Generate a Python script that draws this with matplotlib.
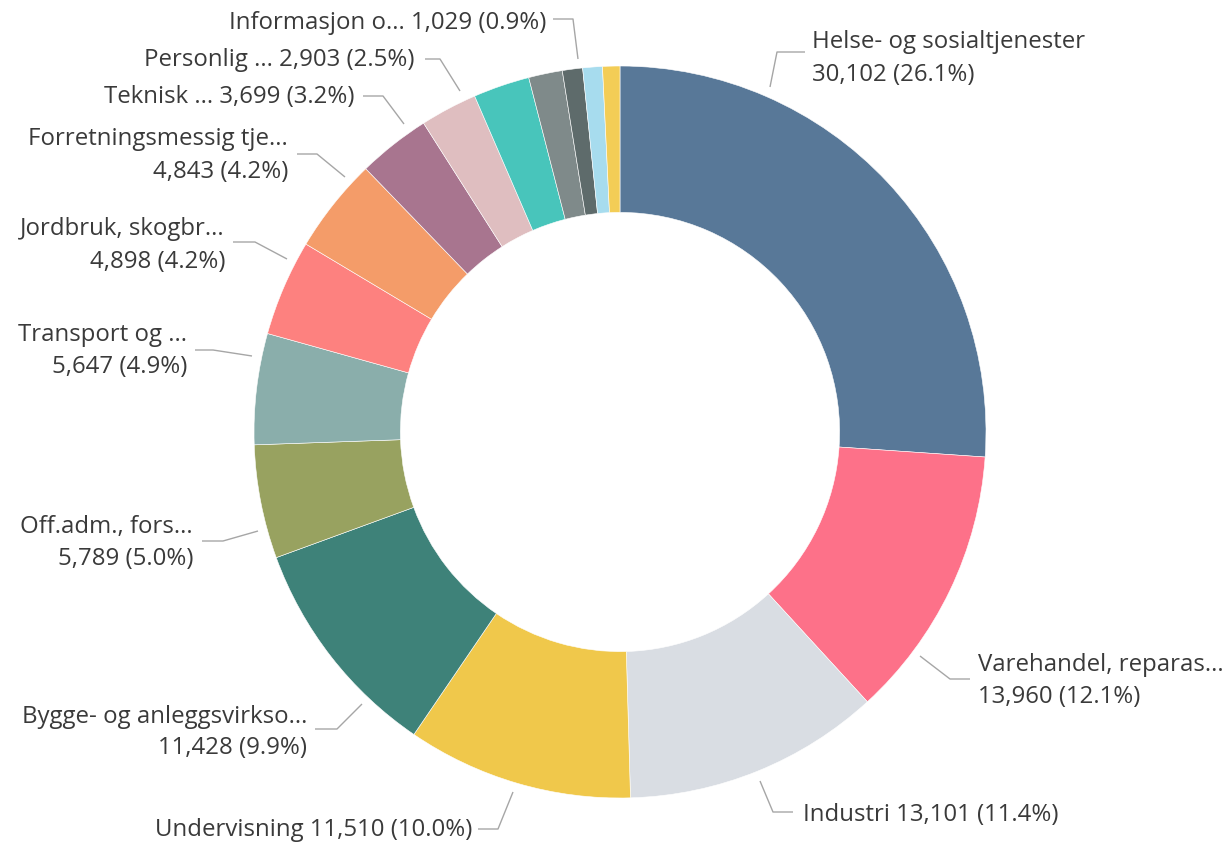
import matplotlib
matplotlib.use("Agg")
import matplotlib.pyplot as plt

# ---------------- data ----------------
categories = [
    "Helse- og sosialtjenester", "Varehandel, reparas...", "Industri",
    "Undervisning", "Bygge- og anleggsvirkso...", "Off.adm., fors...",
    "Transport og ...", "Jordbruk, skogbr...", "Forretningsmessig tje...",
    "Teknisk ...", "Personlig ...", "Overnattings- og serveringsvirksomhet",
    "Finansiering og forsikring", "Informasjon o...", "Eiendomsdrift",
    "Elektrisitet, vann og renovasjon",
]
values = [30102, 13960, 13101, 11510, 11428, 5789, 5647, 4898, 4843,
          3699, 2903, 2870, 1720, 1029, 1000, 880]
colors = ["#587898", "#fd7189", "#d9dde3", "#f0c84b", "#3e8279", "#98a260",
          "#8aaeab", "#fd817f", "#f49c69", "#a8758f", "#dfbec0", "#48c5bb",
          "#7f8a8a", "#5e6b6b", "#a7dcee", "#f3cd56"]

# ---------------- layout ----------------
W, H = 1224, 845
CX, CY, R = 620, 433, 366

def px(x, y):
    return ((x - CX) / R, (CY - y) / R)

fig = plt.figure(figsize=(W / 100, H / 100), dpi=100)
ax = fig.add_axes([0, 0, 1, 1])
ax.pie(values, colors=colors, startangle=90, counterclock=False, radius=1,
       wedgeprops=dict(width=0.4, edgecolor="white", linewidth=0.4))
ax.set_aspect("auto")
ax.set_xlim(px(0, 0)[0], px(W, 0)[0])
ax.set_ylim(px(0, H)[1], px(0, 0)[1])
ax.axis("off")

total = sum(values)

def label_text(i):
    return f"{values[i]:,} ({values[i] / total * 100:.1f}%)"

# (index, side, leader points in px, text anchor x, line y's, one_line)
labels = [
    (0, "L", [(770, 88), (777, 53), (805, 53)], 812, [42, 75], False),
    (1, "L", [(920, 657), (950, 680), (970, 680)], 978, [665, 697], False),
    (2, "L", [(760, 782), (773, 813), (793, 813)], 803, [815], True),
    (3, "R", [(513, 793), (498, 830), (478, 830)], 472, [830], True),
    (4, "R", [(362, 705), (337, 730), (315, 730)], 307, [717, 748], False),
    (5, "R", [(258, 532), (223, 542), (202, 542)], 193, [527, 559], False),
    (6, "R", [(252, 357), (213, 351), (195, 351)], 187, [335, 367], False),
    (7, "R", [(287, 260), (255, 243), (233, 243)], 225, [229, 262], False),
    (8, "R", [(345, 178), (317, 155), (297, 155)], 288, [139, 172], False),
    (9, "R", [(404, 125), (383, 97), (363, 97)], 355, [97], True),
    (10, "R", [(460, 92), (440, 60), (425, 60)], 415, [60], True),
    (13, "R", [(578, 60), (573, 20), (553, 20)], 546, [23], True),
]

FONT = "Open Sans"
FS = 17.3
TC = "#3a3a3a"
LC = "#a6a6a6"

for i, side, pts, tx, ys, one in labels:
    xs = [px(*p)[0] for p in pts]
    yy = [px(*p)[1] for p in pts]
    ax.plot(xs, yy, color=LC, lw=1.0, solid_capstyle="butt")
    ha = "left" if side == "L" else "right"
    if one:
        ax.text(px(tx, 0)[0], px(0, ys[0])[1], f"{categories[i]} {label_text(i)}",
                ha=ha, va="center", fontsize=FS, family=FONT, color=TC)
    else:
        ax.text(px(tx, 0)[0], px(0, ys[0])[1], categories[i],
                ha=ha, va="center", fontsize=FS, family=FONT, color=TC)
        ax.text(px(tx, 0)[0], px(0, ys[1])[1], label_text(i),
                ha=ha, va="center", fontsize=FS, family=FONT, color=TC)

fig.savefig("out.png", dpi=100, facecolor="white")
